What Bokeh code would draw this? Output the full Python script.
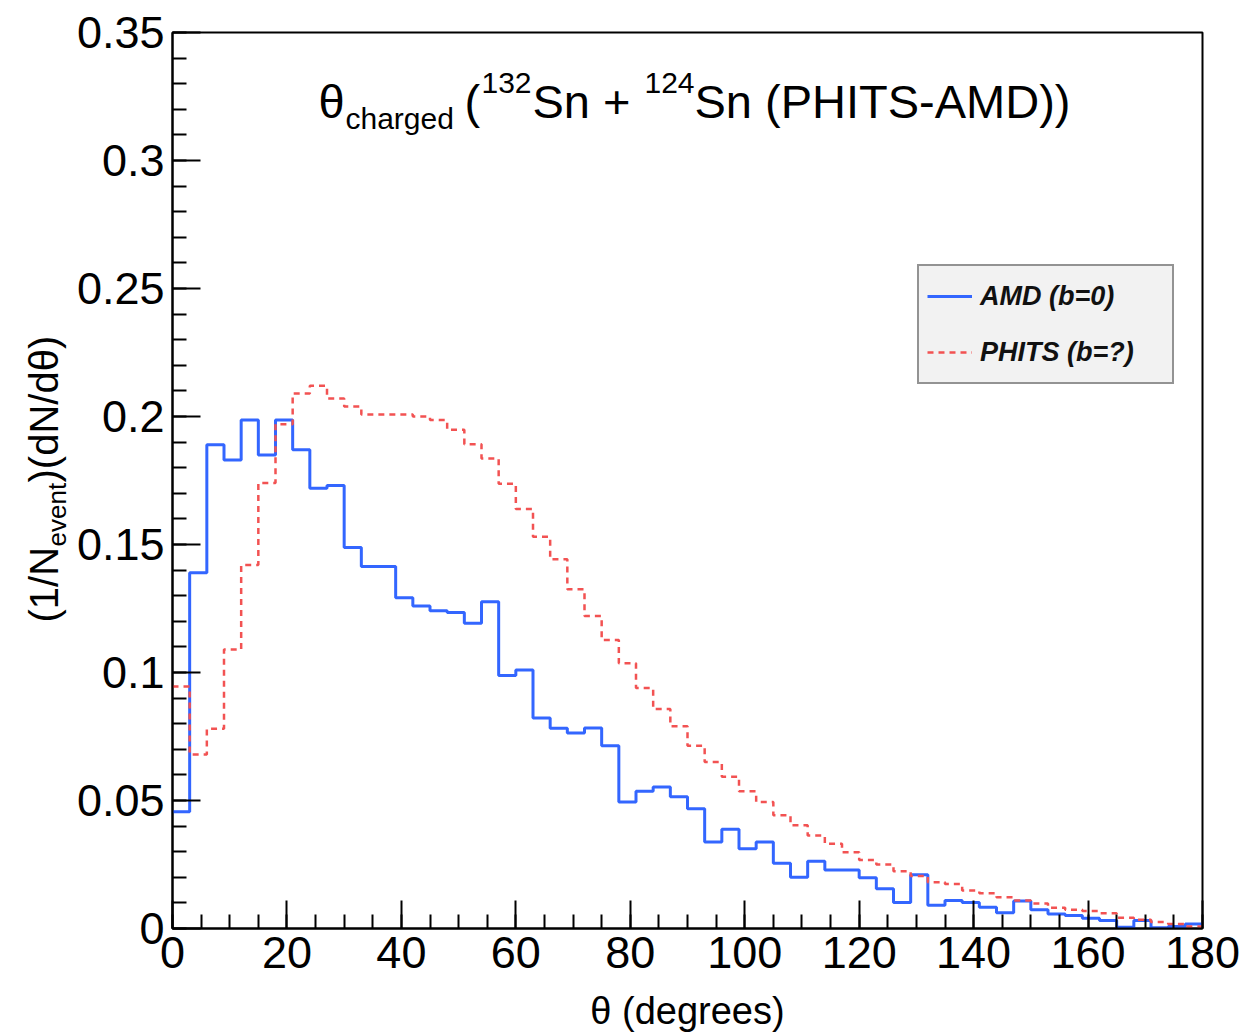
import math
from bokeh.plotting import figure
from bokeh.layouts import row, column
from bokeh.models import FixedTicker, CustomJSTickFormatter, Label, Legend, LegendItem, Range1d
from bokeh.embed import file_html
from bokeh.resources import INLINE

# ---------------- data ----------------
bin_edges = list(range(0, 181, 3))  # 60 bins of 3 degrees

amd_b0 = [0.0456, 0.139, 0.189, 0.183, 0.1986, 0.185, 0.1986, 0.187, 0.172, 0.173,
          0.1488, 0.1414, 0.1414, 0.1292, 0.126, 0.1241, 0.1234, 0.1192, 0.1276, 0.0988,
          0.101, 0.0822, 0.0782, 0.0764, 0.0783, 0.0714, 0.0494, 0.0536, 0.0553, 0.0515,
          0.0468, 0.0338, 0.0388, 0.0312, 0.0338, 0.0255, 0.0200, 0.0263, 0.0229, 0.0229,
          0.0198, 0.0155, 0.0102, 0.0210, 0.0091, 0.0109, 0.0102, 0.0083, 0.0062, 0.0107,
          0.0073, 0.0057, 0.0051, 0.0040, 0.0031, 0.0005, 0.0031, 0.0003, 0.0008, 0.0018]

phits = [0.0945, 0.068, 0.078, 0.109, 0.142, 0.174, 0.197, 0.209, 0.212, 0.207,
         0.2039, 0.2008, 0.2008, 0.2008, 0.2, 0.1986, 0.1948, 0.1892, 0.1836, 0.1737,
         0.1639, 0.1530, 0.1442, 0.1325, 0.1221, 0.1127, 0.1036, 0.0939, 0.0857, 0.0790,
         0.0714, 0.0650, 0.0593, 0.0536, 0.0494, 0.0442, 0.0403, 0.0363, 0.0331, 0.0298,
         0.0268, 0.0250, 0.0224, 0.0205, 0.0181, 0.0174, 0.0148, 0.0138, 0.0122, 0.0109,
         0.0098, 0.0081, 0.0073, 0.0068, 0.0060, 0.0042, 0.0034, 0.0025, 0.0018, 0.0008]

x_major = [0, 20, 40, 60, 80, 100, 120, 140, 160, 180]
x_minor = list(range(0, 181, 5))
y_major = [0, 0.05, 0.1, 0.15, 0.2, 0.25, 0.3, 0.35]
y_minor = [round(0.01 * i, 2) for i in range(36)]

series_labels = ["AMD (b=0)", "PHITS (b=?)"]

# ---------------- layout constants (pixels) ----------------
FONT = "Liberation Sans"
W, H = 1247, 1033
STRIP = 72                            # left strip holding the y-axis title
HM = 989                              # height of the main row
BOT = H - HM                          # bottom strip holding the x-axis title
FL, FR, FT, FB = 172, 1202, 32, 928   # frame edges in page pixels
MID = 0.35  # distance from text middle to alphabetic baseline, in font sizes

def bare(fig):
    fig.grid.visible = False
    fig.outline_line_color = None
    fig.background_fill_color = "white"
    fig.border_fill_color = "white"

# ---------------- left strip: y-axis title ----------------
s = figure(width=STRIP, height=HM, title=None,
           x_range=Range1d(0, STRIP), y_range=Range1d(FB, FT),
           x_axis_type=None, y_axis_type=None,
           output_backend="svg", toolbar_location=None,
           min_border_left=0, min_border_right=0,
           min_border_top=FT, min_border_bottom=HM - FB)
bare(s)

def strip_text_up(txt, px, py, size):
    s.add_layout(Label(x=px - MID * size, y=py, text=txt, text_font=FONT,
                       text_font_size=f"{size}px", text_color="black",
                       text_align="left", text_baseline="middle", angle=math.pi / 2))

# (1/N_event)(dN/dθ)
strip_text_up("(1/N", 57, 622, 40)
strip_text_up("event", 66, 546, 26)
strip_text_up(")(dN/dθ)", 57, 482, 40)

# ---------------- bottom strip: x-axis title ----------------
b = figure(width=W, height=BOT, title=None,
           x_range=Range1d(FL, FR), y_range=Range1d(BOT, 0),
           x_axis_type=None, y_axis_type=None,
           output_backend="svg", toolbar_location=None,
           min_border_left=FL, min_border_right=W - FR,
           min_border_top=0, min_border_bottom=0)
bare(b)
b.add_layout(Label(x=687, y=(1024 - HM) - MID * 38, text="θ (degrees)", text_font=FONT,
                   text_font_size="38px", text_color="black",
                   text_align="center", text_baseline="middle"))

# ---------------- main figure ----------------
p = figure(width=W - STRIP, height=HM, title=None,
           x_range=Range1d(0, 180), y_range=Range1d(0, 0.35),
           output_backend="svg", toolbar_location=None,
           min_border_left=FL - STRIP, min_border_right=W - FR,
           min_border_top=FT, min_border_bottom=HM - FB)
p.background_fill_color = "white"
p.border_fill_color = "white"
p.grid.visible = False
p.outline_line_color = "black"
p.outline_line_width = 2

for ax in (p.xaxis[0], p.yaxis[0]):
    ax.axis_line_color = "black"
    ax.axis_line_width = 2
    ax.major_tick_line_color = "black"
    ax.minor_tick_line_color = "black"
    ax.major_tick_line_width = 2
    ax.minor_tick_line_width = 2
    ax.major_tick_in = 28
    ax.major_tick_out = 0
    ax.minor_tick_in = 14
    ax.minor_tick_out = 0
    ax.major_label_text_font = FONT
    ax.major_label_text_font_size = "45px"
    ax.major_label_text_color = "black"

p.xaxis.ticker = FixedTicker(ticks=x_major, minor_ticks=x_minor)
p.yaxis.ticker = FixedTicker(ticks=y_major, minor_ticks=y_minor)
p.yaxis.formatter = CustomJSTickFormatter(code="return String(Math.round(tick*100)/100);")
p.xaxis.major_label_standoff = 8
p.yaxis.major_label_standoff = 8

# ---------------- histograms ----------------
r_amd = p.step(bin_edges, amd_b0 + [amd_b0[-1]], mode="after",
               line_color="#3366ff", line_width=3)
r_phits = p.step(bin_edges, phits + [phits[-1]], mode="after",
                 line_color="#f25252", line_width=2.5, line_dash="6 5")

legend = Legend(items=[LegendItem(label=series_labels[0], renderers=[r_amd]),
                       LegendItem(label=series_labels[1], renderers=[r_phits])],
                location=(917 - FL, FB - 384), margin=0, padding=8, spacing=12,
                glyph_width=45, glyph_height=44, label_height=44, label_standoff=8,
                label_width=184,
                label_text_font=FONT, label_text_font_size="27px",
                label_text_font_style="bold italic", label_text_color="#111111",
                background_fill_color="#f2f2f2", background_fill_alpha=1,
                border_line_color="#333333", border_line_width=2)
p.add_layout(legend)

# ---------------- title (baseline points in page pixels) ----------------
def px_x(px):
    return (px - FL) / ((FR - FL) / 180)

def px_y(py):
    return (FB - py) / ((FB - FT) / 0.35)

def add_text(txt, px, py, size, align="left"):
    p.add_layout(Label(x=px_x(px), y=px_y(py - MID * size), text=txt, text_font=FONT,
                       text_font_size=f"{size}px", text_color="black",
                       text_align=align, text_baseline="middle"))

# θ_charged (^132Sn + ^124Sn (PHITS-AMD))
add_text("θ", 318, 117, 47)
add_text("charged", 345, 128, 30)
add_text("(", 464, 117, 47)
add_text("132", 481, 93, 30)
add_text("Sn + ", 532, 117, 47)
add_text("124", 644, 93, 30)
add_text("Sn (PHITS-AMD))", 694, 117, 47)

layout = column(row(s, p, spacing=0), b, spacing=0)
open("out.html", "w").write(file_html(layout, INLINE))
